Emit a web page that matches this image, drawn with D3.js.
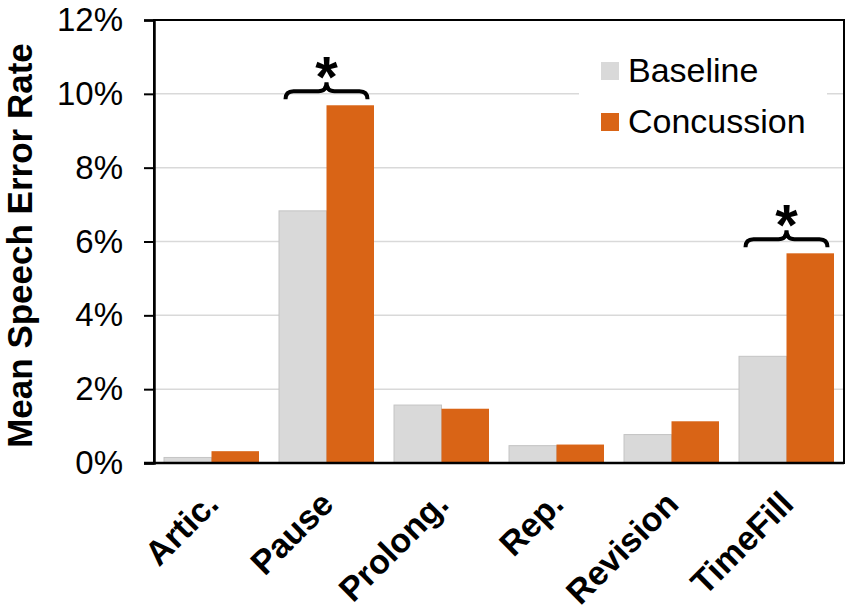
<!DOCTYPE html>
<html>
<head>
<meta charset="utf-8">
<script src="https://cdn.jsdelivr.net/npm/d3@7"></script>
<style>
  body { margin: 0; background: #fff; }
  svg { display: block; font-family: "Liberation Sans", Arial, sans-serif; }
</style>
</head>
<body>
<div id="chart"></div>
<script>
// error types and mean error rates (%)
const categories = ["Artic.", "Pause", "Prolong.", "Rep.", "Revision", "TimeFill"];
const seriesNames = ["Baseline", "Concussion"];
const baseline = [0.15, 6.83, 1.57, 0.47, 0.77, 2.89];
const concussion = [0.32, 9.69, 1.47, 0.50, 1.13, 5.68];
const yTicks = [0, 2, 4, 6, 8, 10, 12];
const significant = ["Pause", "TimeFill"];

const colors = ["#d9d9d9", "#d96416"];
const width = 851, height = 614;
const margin = {top: 20, right: 7, bottom: 151, left: 154};

const svg = d3.select("#chart")
  .append("svg")
  .attr("width", width)
  .attr("height", height);

const x = d3.scaleBand()
  .domain(categories)
  .range([margin.left, width - margin.right])
  .paddingInner(0.174)
  .paddingOuter(0.087);

const xs = d3.scaleBand()
  .domain(seriesNames)
  .range([0, x.bandwidth()]);

const y = d3.scaleLinear()
  .domain([0, 12])
  .range([height - margin.bottom, margin.top]);

// gridlines
svg.append("g")
  .selectAll("line")
  .data(yTicks.filter(d => d > 0 && d < 12))
  .join("line")
  .attr("x1", margin.left)
  .attr("x2", width - margin.right)
  .attr("y1", d => y(d))
  .attr("y2", d => y(d))
  .attr("stroke", "#d9d9d9")
  .attr("stroke-width", 1.5);

// legend background blanks the gridline behind it
svg.append("rect")
  .attr("x", 579).attr("y", 46)
  .attr("width", 248).attr("height", 98)
  .attr("fill", "#fff");

// bars
const rows = categories.map((c, i) => ({cat: c, values: [baseline[i], concussion[i]]}));

svg.append("g")
  .selectAll("g")
  .data(rows)
  .join("g")
  .attr("transform", d => `translate(${x(d.cat)},0)`)
  .selectAll("rect")
  .data(d => d.values.map((v, k) => ({name: seriesNames[k], v, k})))
  .join("rect")
  .attr("x", d => xs(d.name))
  .attr("width", xs.bandwidth())
  .attr("y", d => y(d.v))
  .attr("height", d => y(0) - y(d.v))
  .attr("fill", d => colors[d.k])
  .attr("stroke", d => d.k === 0 ? "#c4c4c4" : "none")
  .attr("stroke-width", 1);

// plot frame
svg.append("rect")
  .attr("x", margin.left)
  .attr("y", margin.top)
  .attr("width", width - margin.right - margin.left)
  .attr("height", y(0) - margin.top)
  .attr("fill", "none")
  .attr("stroke", "#000")
  .attr("stroke-width", 2);

// y axis
const yAxis = svg.append("g")
  .attr("transform", `translate(${margin.left},0)`)
  .call(d3.axisLeft(y).tickValues(yTicks).tickFormat(d => d + "%").tickSize(10).tickPadding(21));
yAxis.select(".domain").attr("stroke-width", 2.5);
yAxis.selectAll(".tick line").attr("stroke-width", 2);
yAxis.selectAll(".tick text")
  .attr("font-size", 33)
  .attr("font-family", "Liberation Sans, Arial, sans-serif")
  .attr("fill", "#000");

// x axis line
svg.append("line")
  .attr("x1", margin.left - 10)
  .attr("x2", width - margin.right)
  .attr("y1", y(0))
  .attr("y2", y(0))
  .attr("stroke", "#000")
  .attr("stroke-width", 2.5);

// x labels
svg.append("g")
  .selectAll("text")
  .data(categories)
  .join("text")
  .attr("transform", d => `translate(${x(d) + x.bandwidth() / 2 + 9},${y(0) + 43}) rotate(-45)`)
  .attr("text-anchor", "end")
  .attr("font-size", 34)
  .attr("font-weight", "bold")
  .text(d => d);

// y title
svg.append("text")
  .attr("transform", `translate(32,${(margin.top + y(0)) / 2 + 4}) rotate(-90)`)
  .attr("text-anchor", "middle")
  .attr("font-size", 35)
  .attr("font-weight", "bold")
  .text("Mean Speech Error Rate");

// significance braces
function brace(cx, yb, half) {
  const x1 = cx - half, x2 = cx + half;
  const ym = yb - 8, yt = yb - 17, r = 8;
  return `M${x1},${yb} Q${x1},${ym} ${x1 + r},${ym} L${cx - r},${ym} Q${cx},${ym} ${cx},${yt}`
    + ` Q${cx},${ym} ${cx + r},${ym} L${x2 - r},${ym} Q${x2},${ym} ${x2},${yb}`;
}

const sig = svg.append("g")
  .selectAll("g")
  .data(significant)
  .join("g");

sig.append("path")
  .attr("d", d => {
    const i = categories.indexOf(d);
    return brace(x(d) + x.bandwidth() / 2, y(concussion[i]) - 6, 41);
  })
  .attr("fill", "none")
  .attr("stroke", "#000")
  .attr("stroke-width", 4);

sig.append("text")
  .attr("x", d => x(d) + x.bandwidth() / 2)
  .attr("y", d => y(concussion[categories.indexOf(d)]) - 8)
  .attr("text-anchor", "middle")
  .attr("font-size", 58)
  .attr("font-weight", "bold")
  .text("*");

// legend
const legend = svg.append("g")
  .selectAll("g")
  .data(seriesNames)
  .join("g")
  .attr("transform", (d, i) => `translate(601,${62 + i * 51})`);

legend.append("rect")
  .attr("width", 18).attr("height", 18)
  .attr("fill", (d, i) => colors[i]);

legend.append("text")
  .attr("x", 27)
  .attr("y", 20)
  .attr("font-size", 34)
  .text(d => d);
</script>
</body>
</html>
